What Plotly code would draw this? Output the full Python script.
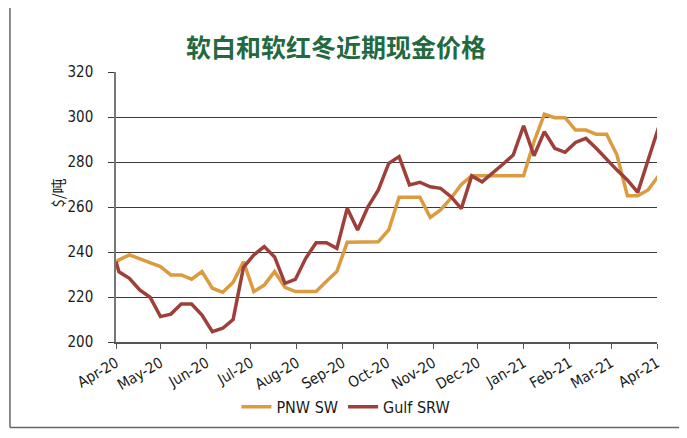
import plotly.graph_objects as go

# ---- data ----
dates = ["2020-04-01", "2020-04-03",
         "2020-04-10", "2020-04-17", "2020-04-24", "2020-05-01", "2020-05-08", "2020-05-15",
         "2020-05-22", "2020-05-29", "2020-06-05", "2020-06-12", "2020-06-19", "2020-06-26",
         "2020-07-03", "2020-07-10", "2020-07-17", "2020-07-24", "2020-07-31", "2020-08-07",
         "2020-08-14", "2020-08-21", "2020-08-28", "2020-09-04", "2020-09-11", "2020-09-18",
         "2020-09-25", "2020-10-02", "2020-10-09", "2020-10-16", "2020-10-23", "2020-10-30",
         "2020-11-06", "2020-11-13", "2020-11-20", "2020-11-27", "2020-12-04", "2020-12-11",
         "2020-12-18", "2020-12-25", "2021-01-01", "2021-01-08", "2021-01-15", "2021-01-22",
         "2021-01-29", "2021-02-05", "2021-02-12", "2021-02-19", "2021-02-26", "2021-03-05",
         "2021-03-12", "2021-03-19", "2021-03-26", "2021-04-02"]

pnw_sw = [235.7, 236.5,
          238.7, 237.0, 235.0, 233.5, 229.8, 229.8, 227.9, 231.3, 223.9, 222.1,
          226.5, 235.7, 222.4, 225.3, 231.3, 224.3, 222.4, 222.4, 222.4, 227.0,
          231.3, 244.3, 244.4, 244.4, 244.6, 249.8, 264.3, 264.3, 264.3, 255.4,
          258.7, 263.9, 270.0, 273.9, 273.9, 273.9, 273.9, 273.9, 273.9, 289.0,
          301.2, 299.7, 299.7, 294.2, 294.2, 292.3, 292.3, 283.1, 265.0, 265.0,
          267.6, 273.8]

gulf_srw = [235.7, 231.2,
            228.3, 223.1, 219.9, 211.3, 212.4, 216.9, 216.9, 212.0, 204.6, 206.1,
            210.0, 233.2, 238.7, 242.4, 237.8, 226.1, 227.8, 237.2, 244.1, 244.1,
            241.6, 259.4, 249.8, 260.1, 267.6, 279.4, 282.4, 269.8, 271.0, 269.0,
            268.3, 264.6, 259.3, 273.8, 271.2, 275.0, 279.0, 283.1, 296.1, 282.8,
            293.5, 286.1, 284.3, 288.7, 290.5, 286.1, 281.2, 276.4, 272.0, 266.5,
            280.9, 295.2]

series_names = ["PNW SW", "Gulf SRW"]
series_colors = ["#DB9B3F", "#9E3F3A"]
title_text = "软白和软红冬近期现金价格"
y_title = "$/吨"
y_ticks = [200, 220, 240, 260, 280, 300, 320]

FONT = "DejaVu Sans Condensed"

fig = go.Figure()
for name, vals, col in zip(series_names, [pnw_sw, gulf_srw], series_colors):
    fig.add_trace(go.Scatter(x=dates, y=vals, mode="lines", name=name,
                             line=dict(color=col, width=3.5)))

fig.update_layout(
    width=679, height=430,
    margin=dict(l=108, r=30, t=64, b=96, autoexpand=False),
    paper_bgcolor="white", plot_bgcolor="white",
    font=dict(family=FONT, size=15, color="#1a1a1a"),
    title=dict(text=title_text, x=0.483, xanchor="center", y=0.907, yanchor="middle",
               font=dict(family="Noto Sans CJK SC", size=25, color="#23693F", weight="bold")),
    showlegend=True,
    legend=dict(orientation="h", x=0.425, xanchor="center",
                y=-0.24, yanchor="middle", font=dict(size=16, family=FONT),
                bgcolor="rgba(0,0,0,0)"),
    xaxis=dict(type="date", range=["2020-04-01", "2021-04-01"],
               tick0="2020-04-01", dtick="M1", tickformat="%b-%y",
               tickangle=-30, showgrid=False, showline=True, linecolor="#555555",
               linewidth=1.5, ticks="outside", ticklen=5, tickcolor="#555555",
               tickfont=dict(size=15, family=FONT), zeroline=False, automargin=False),
    yaxis=dict(range=[200, 320], tickvals=y_ticks, showgrid=True, gridcolor="#3a3a3a",
               gridwidth=1, showline=True, linecolor="#777777", linewidth=1.5,
               ticks="outside", ticklen=6, tickcolor="#3a3a3a", ticklabelstandoff=12,
               tickfont=dict(size=15, family=FONT), zeroline=False, automargin=False),
)

fig.add_annotation(text=y_title, xref="paper", yref="paper", x=-0.131, y=0.552,
                   textangle=-90, showarrow=False,
                   font=dict(size=15, family="Noto Sans CJK SC", color="#1a1a1a"))

# outer frame (left and bottom edges)
fig.add_shape(type="line", xref="paper", yref="paper", x0=-0.196, x1=-0.196, y0=1.3, y1=-0.317,
              line=dict(color="#666666", width=1.5))
fig.add_shape(type="line", xref="paper", yref="paper", x0=-0.196, x1=1.1, y0=-0.317, y1=-0.317,
              line=dict(color="#666666", width=1.5))

fig.write_html("out.html")
